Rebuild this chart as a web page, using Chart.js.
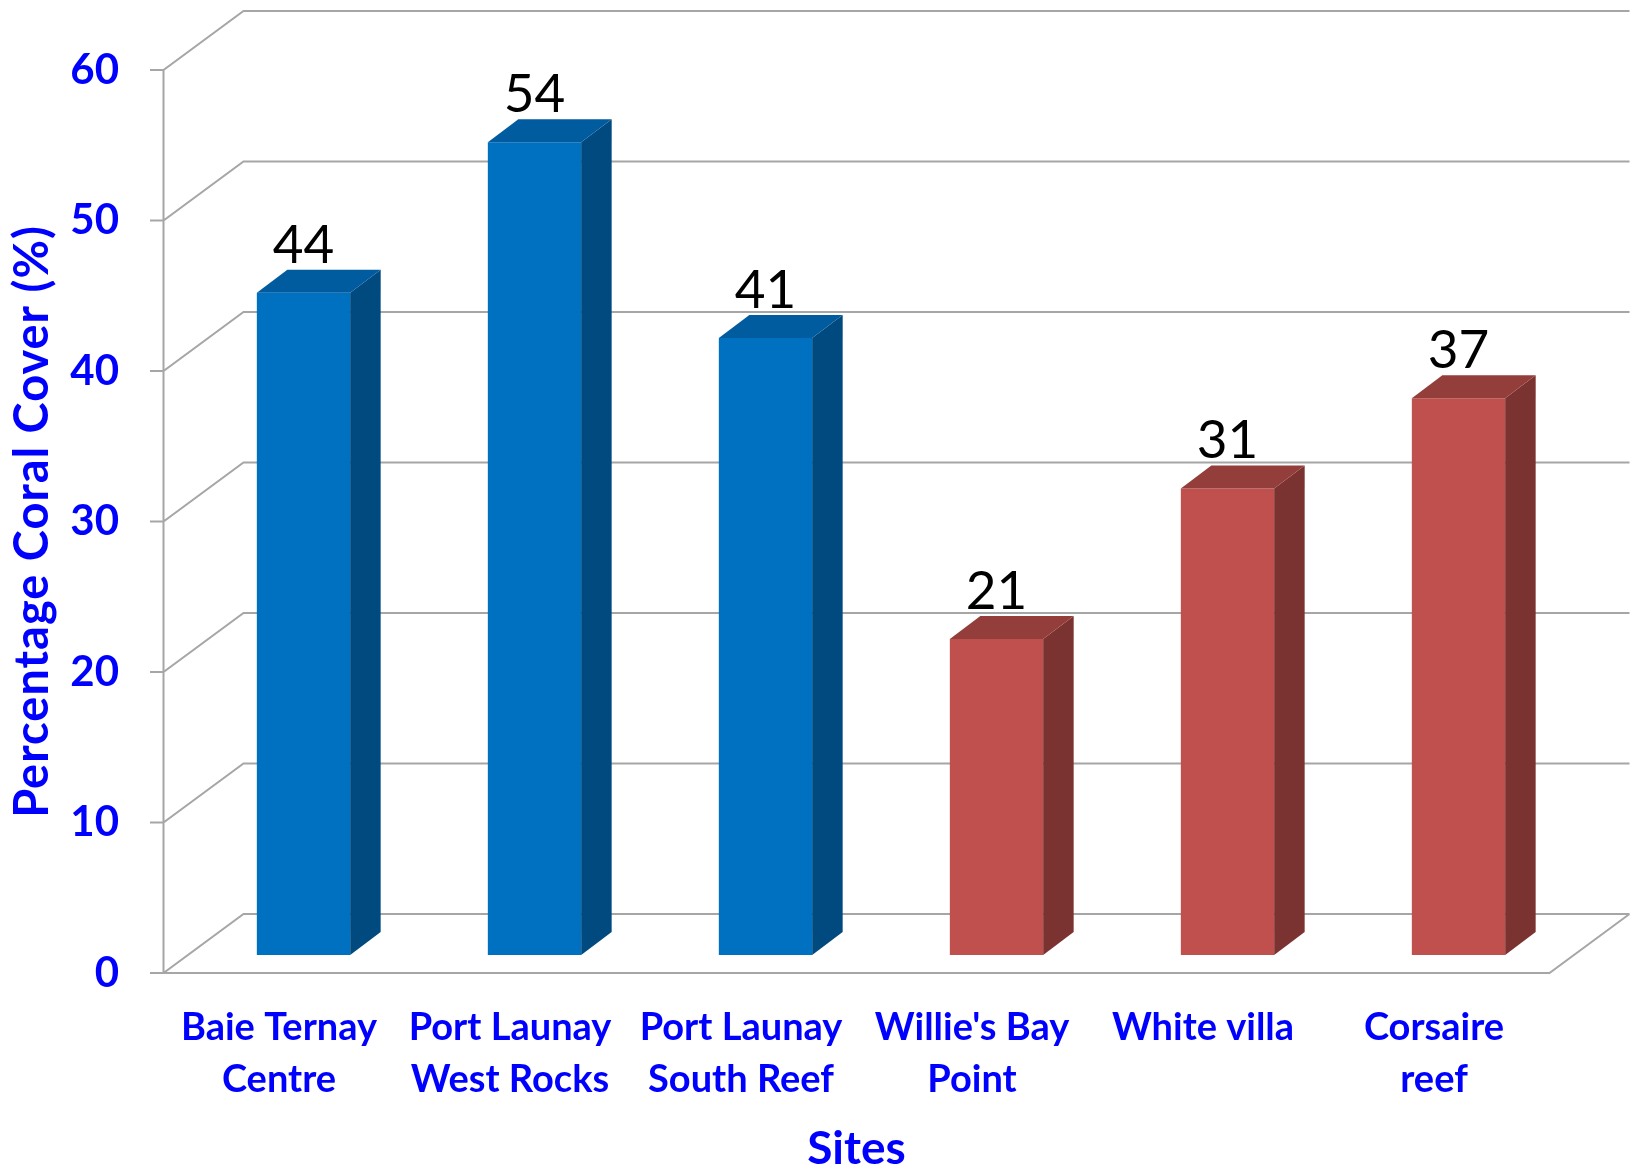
<!DOCTYPE html>
<html>
<head>
<meta charset="utf-8">
<title>Percentage Coral Cover by Site</title>
<script src="https://cdn.jsdelivr.net/npm/chart.js@4.4.1/dist/chart.umd.min.js"></script>
<style>
  html, body { margin: 0; padding: 0; background: #fff; }
  #wrap { position: relative; width: 1637px; height: 1169px; }
</style>
</head>
<body>
<div id="wrap"><canvas id="coralChart"></canvas></div>
<script>
const sites = [['Baie Ternay', 'Centre'], ['Port Launay', 'West Rocks'], ['Port Launay', 'South Reef'],
               ["Willie's Bay", 'Point'], ['White villa'], ['Corsaire', 'reef']];
const coralCover = [44, 54, 41, 21, 31, 37];
const siteGroup = [0, 0, 0, 1, 1, 1];
const yTicks = [0, 10, 20, 30, 40, 50, 60];

const faceColors = ['#0070C0', '#C0504D'];
const sideColors = ['#004A7F', '#7B3331'];
const topColors = ['#005B9F', '#943E3B'];
const GRID = '#a6a6a6';
const BLUE_TEXT = '#0000ff';

// offsets of the fake 3D planes, relative to the bar front face plane
const FRONT = { dx: -24.5, dy: 18 };
const BACK = { dx: 55.5, dy: -41 };
const DEPTH = { dx: 30.5, dy: -23 };

const frame3d = {
    id: 'frame3d',
    beforeDatasetsDraw(chart) {
        const { ctx, chartArea: a, scales: { y } } = chart;
        const fx = a.left + FRONT.dx;
        ctx.save();
        ctx.strokeStyle = GRID;
        ctx.lineWidth = 2;
        ctx.beginPath();
        // tick mark, left wall diagonal, back wall line
        y.ticks.forEach(t => {
            const py = y.getPixelForValue(t.value);
            ctx.moveTo(fx - 13.5, py + FRONT.dy);
            ctx.lineTo(fx, py + FRONT.dy);
            ctx.lineTo(a.left + BACK.dx, py + BACK.dy);
            ctx.lineTo(a.right + BACK.dx, py + BACK.dy);
        });
        // front axis and floor edge
        const y0 = y.getPixelForValue(0);
        ctx.moveTo(fx, y.getPixelForValue(60) + FRONT.dy);
        ctx.lineTo(fx, y0 + FRONT.dy);
        ctx.lineTo(a.right + FRONT.dx, y0 + FRONT.dy);
        ctx.lineTo(a.right + BACK.dx, y0 + BACK.dy);
        ctx.stroke();
        ctx.restore();
    },
    afterDatasetsDraw(chart) {
        const { ctx, chartArea: a, scales: { y } } = chart;
        const bars = chart.getDatasetMeta(0).data;
        ctx.save();
        bars.forEach((bar, i) => {
            const g = siteGroup[i];
            const l = bar.x - bar.width / 2, r = bar.x + bar.width / 2;
            const t = bar.y, b = bar.base;
            // side face
            ctx.fillStyle = sideColors[g];
            ctx.beginPath();
            ctx.moveTo(r, t);
            ctx.lineTo(r + DEPTH.dx, t + DEPTH.dy);
            ctx.lineTo(r + DEPTH.dx, b + DEPTH.dy);
            ctx.lineTo(r, b);
            ctx.closePath();
            ctx.fill();
            // top face
            ctx.fillStyle = topColors[g];
            ctx.beginPath();
            ctx.moveTo(l, t);
            ctx.lineTo(l + DEPTH.dx, t + DEPTH.dy);
            ctx.lineTo(r + DEPTH.dx, t + DEPTH.dy);
            ctx.lineTo(r, t);
            ctx.closePath();
            ctx.fill();
            // value label
            ctx.fillStyle = '#000';
            ctx.font = '53px Lato';
            ctx.textAlign = 'center';
            ctx.textBaseline = 'alphabetic';
            ctx.fillText(String(coralCover[i]), bar.x, t - 30);
        });

        // axis titles, centred on the front plane
        ctx.fillStyle = BLUE_TEXT;
        ctx.font = 'bold 46px Lato';
        ctx.textAlign = 'center';
        ctx.textBaseline = 'alphabetic';
        ctx.fillText('Sites', (a.left + a.right) / 2 + FRONT.dx, 1164);

        const midY = (y.getPixelForValue(0) + y.getPixelForValue(60)) / 2 + FRONT.dy;
        ctx.translate(48, midY);
        ctx.rotate(-Math.PI / 2);
        ctx.font = 'bold 47px Lato';
        ctx.letterSpacing = '1px';
        ctx.fillText('Percentage Coral Cover (%)', 0, 0);
        ctx.restore();
    }
};

const ctx = document.getElementById('coralChart').getContext('2d');
new Chart(ctx, {
    type: 'bar',
    data: {
        labels: sites,
        datasets: [{
            label: 'Coral cover',
            data: coralCover,
            backgroundColor: siteGroup.map(g => faceColors[g]),
            borderWidth: 0,
            barPercentage: 1,
            categoryPercentage: 0.404
        }]
    },
    options: {
        responsive: true,
        maintainAspectRatio: false,
        animation: false,
        layout: { padding: { top: 52, right: 63, bottom: 0, left: 0 } },
        plugins: {
            legend: { display: false },
            tooltip: { enabled: false }
        },
        scales: {
            x: {
                grid: { display: false, drawTicks: false },
                border: { display: false },
                ticks: {
                    color: BLUE_TEXT,
                    font: { family: 'Lato', size: 38, weight: 'bold', lineHeight: 1.36 },
                    padding: 47,
                    labelOffset: FRONT.dx,
                    maxRotation: 0,
                    autoSkip: false
                },
                afterFit: s => { s.height = 214; s.paddingLeft = 0; s.paddingRight = 0; }
            },
            y: {
                min: 0,
                max: 60,
                grid: { display: false, drawTicks: false },
                border: { display: false },
                ticks: {
                    color: BLUE_TEXT,
                    font: { family: 'Lato', size: 42, weight: 'bold' },
                    padding: 69,
                    labelOffset: FRONT.dy
                },
                afterBuildTicks: s => { s.ticks = yTicks.map(v => ({ value: v })); },
                afterFit: s => { s.width = 188; s.paddingTop = 0; s.paddingBottom = 0; }
            }
        }
    },
    plugins: [frame3d]
});
</script>
</body>
</html>
